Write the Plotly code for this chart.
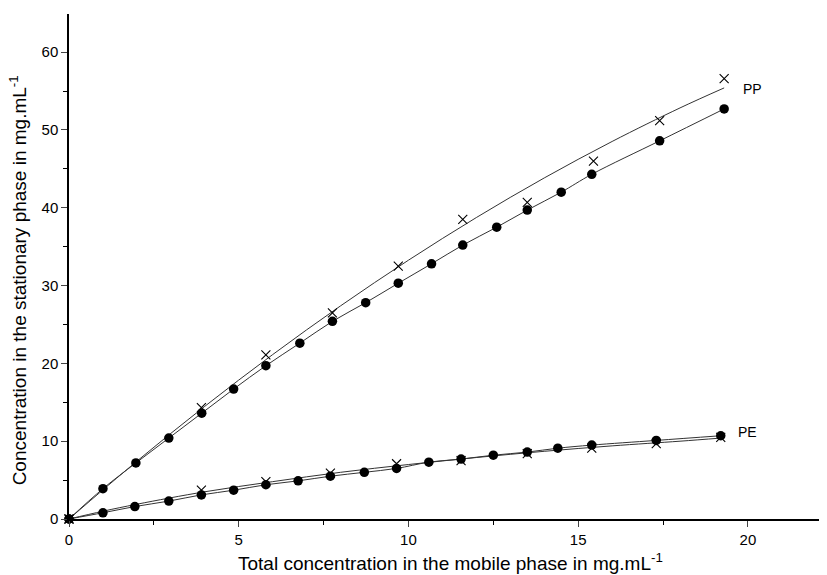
import plotly.graph_objects as go

# PP data
pp_dot_x = [0, 1.0, 1.97, 2.94, 3.91, 4.85, 5.8, 6.8, 7.76, 8.74, 9.7, 10.68, 11.6, 12.6, 13.5, 14.5, 15.4, 17.4, 19.3]
pp_dot_y = [0, 3.9, 7.2, 10.4, 13.6, 16.7, 19.7, 22.6, 25.4, 27.8, 30.3, 32.8, 35.2, 37.5, 39.7, 42.0, 44.3, 48.6, 52.7]
pp_x_x = [0, 3.9, 5.8, 7.76, 9.7, 11.6, 13.5, 15.45, 17.4, 19.3]
pp_x_y = [0, 14.3, 21.1, 26.5, 32.5, 38.5, 40.7, 46.0, 51.2, 56.6]
pp_fit_x = [0, 2, 4, 6, 8, 10, 12, 14, 16, 18, 19.3]
pp_fit_y = [0, 7.43, 14.48, 21.13, 27.39, 33.26, 38.74, 43.83, 48.52, 52.83, 55.4]

# PE data
pe_dot_x = [0, 1.0, 1.94, 2.94, 3.9, 4.85, 5.8, 6.75, 7.7, 8.7, 9.65, 10.6, 11.55, 12.5, 13.5, 14.4, 15.4, 17.3, 19.2]
pe_dot_y = [0, 0.8, 1.6, 2.3, 3.1, 3.7, 4.4, 4.9, 5.5, 6.0, 6.5, 7.3, 7.7, 8.2, 8.6, 9.1, 9.5, 10.1, 10.7]
pe_x_x = [0, 3.9, 5.8, 7.7, 9.65, 11.55, 13.5, 15.4, 17.3, 19.2]
pe_x_y = [0, 3.7, 4.8, 5.9, 7.1, 7.5, 8.4, 9.1, 9.7, 10.5]
pe_fit_x = [0, 1, 2, 4, 6, 8, 10, 12, 14, 16, 18, 19.2]
pe_fit_y = [0, 1.0, 1.9, 3.5, 4.8, 6.0, 7.0, 7.9, 8.7, 9.4, 10.0, 10.4]

x_ticks = [0, 5, 10, 15, 20]
y_ticks = [0, 10, 20, 30, 40, 50, 60]

x_title = "Total concentration in the mobile phase in mg.mL<sup>-1</sup>"
y_title = "Concentration in the stationary phase in mg.mL<sup>-1</sup>"

line_style = dict(color="#333333", width=1)
fig = go.Figure()

for fx, fy in [(pp_fit_x, pp_fit_y), (pe_fit_x, pe_fit_y), (pp_dot_x, pp_dot_y), (pe_dot_x, pe_dot_y)]:
    fig.add_trace(go.Scatter(x=fx, y=fy, mode="lines", line=dict(shape="spline", **line_style),
                             showlegend=False, hoverinfo="skip", cliponaxis=False))

for cx, cy in [(pp_x_x, pp_x_y), (pe_x_x, pe_x_y)]:
    fig.add_trace(go.Scatter(x=cx, y=cy, mode="markers",
                             marker=dict(symbol="x-thin", size=9, line=dict(color="black", width=1.1)),
                             showlegend=False, cliponaxis=False))
for dx, dy in [(pp_dot_x, pp_dot_y), (pe_dot_x, pe_dot_y)]:
    fig.add_trace(go.Scatter(x=dx, y=dy, mode="markers",
                             marker=dict(symbol="circle", size=9.5, color="black"),
                             showlegend=False, cliponaxis=False))

fig.add_annotation(x=19.8, y=55.3, text="PP", showarrow=False, xanchor="left",
                   font=dict(size=14, color="black"))
fig.add_annotation(x=19.65, y=11.2, text="PE", showarrow=False, xanchor="left",
                   font=dict(size=14, color="black"))

# axis titles as paper-positioned annotations
fig.add_annotation(xref="paper", yref="paper", x=0.503, y=-0.085, text=x_title,
                   showarrow=False, xanchor="center", yanchor="middle",
                   font=dict(size=19, color="black"))
fig.add_annotation(xref="paper", yref="paper", x=-0.067, y=0.473, text=y_title,
                   showarrow=False, xanchor="center", yanchor="middle", textangle=-90,
                   font=dict(size=19, color="black"))

axis_font = dict(family="Liberation Sans, Arial, sans-serif", size=15, color="black")
# note: the page body adds an 8px offset, margins compensate for it
fig.update_layout(
    width=827, height=575,
    margin=dict(l=61, r=8, t=6, b=64, autoexpand=False),
    paper_bgcolor="white", plot_bgcolor="white",
    font=dict(family="Liberation Sans, Arial, sans-serif", color="black"),
    xaxis=dict(range=[0, 22.33], tickvals=x_ticks, ticks="outside", ticklen=6, tickwidth=1.2,
               showline=True, linecolor="black", linewidth=1.5, showgrid=False, zeroline=False,
               tickfont=axis_font,
               minor=dict(ticks="outside", ticklen=4, dtick=2.5, tick0=0, tickcolor="black", showgrid=False)),
    yaxis=dict(range=[0, 64.9], tickvals=y_ticks, ticks="outside", ticklen=6, tickwidth=1.2,
               showline=True, linecolor="black", linewidth=1.5, showgrid=False, zeroline=False,
               tickfont=axis_font,
               minor=dict(ticks="outside", ticklen=4, dtick=5, tick0=0, tickcolor="black", showgrid=False)),
)

fig.write_html("out.html")
